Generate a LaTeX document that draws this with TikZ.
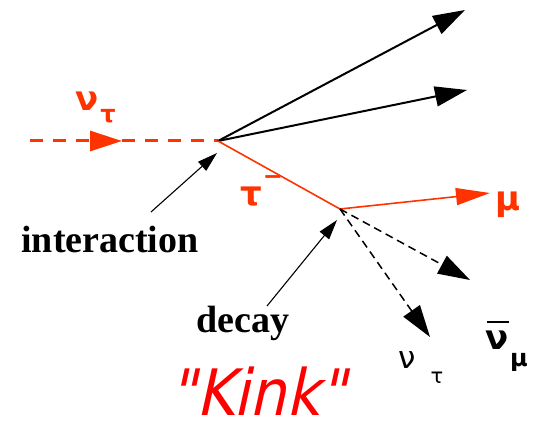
\documentclass[tikz,border=0pt]{standalone}
\usepackage{fontspec}
\setmainfont{Liberation Serif}
\newfontfamily\kinkfont[FakeSlant=0.22]{DejaVu Sans Condensed}
\newfontfamily\grk{DejaVu Sans}
\usetikzlibrary{arrows.meta}
\definecolor{tred}{RGB}{255,51,0}
\definecolor{kred}{RGB}{255,0,0}
\begin{document}
\begin{tikzpicture}[x=1pt,y=-1pt,
  bigtip/.style={-{Triangle[length=32pt,width=20pt]}},
  smalltip/.style={-{Triangle[length=20pt,width=12pt]}},
  track/.style={line width=2pt,black},
  redtrack/.style={line width=1.6pt,tred},
  nudash/.style={line width=3pt,tred,dash pattern=on 13pt off 10pt},
  nudecay/.style={line width=1.5pt,black,dash pattern=on 8pt off 5pt},
  pointer/.style={line width=1.1pt,black},
  lbl/.style={font=\fontsize{38}{38}\selectfont\bfseries,inner sep=0pt},
  greek/.style={font=\grk\bfseries\fontsize{34}{34}\selectfont,inner sep=0pt},
  greeks/.style={font=\grk\bfseries\fontsize{24}{24}\selectfont,inner sep=0pt},
  greekl/.style={font=\grk\fontsize{31}{31}\selectfont,inner sep=0pt},
  greekls/.style={font=\grk\fontsize{21}{21}\selectfont,inner sep=0pt},
]
\useasboundingbox (0,0) rectangle (535,427);
% vertices and end points
\coordinate (start) at (30,141);
\coordinate (mid) at (122,141);
\coordinate (int) at (218,141);
\coordinate (dec) at (340,209);
\coordinate (j1) at (465,10);
\coordinate (j2) at (467,90);
\coordinate (mu) at (490,193);
\coordinate (nb) at (470,280);
\coordinate (nt) at (430,337);
\coordinate (ip) at (151,212);
\coordinate (ipt) at (217,153);
\coordinate (dp) at (267,306);
\coordinate (dpt) at (337,220);
% incoming neutrino
\draw[nudash,bigtip] (start) -- (mid);
\draw[nudash] (mid) -- (int);
% hadron jets
\draw[track,bigtip] (int) -- (j1);
\draw[track,bigtip] (int) -- (j2);
% tau
\draw[redtrack] (int) -- (dec);
\draw[redtrack,-{Triangle[length=34pt,width=17pt]}] (dec) -- (mu);
% decay neutrinos
\draw[nudecay,bigtip] (dec) -- (nb);
\draw[nudecay,bigtip] (dec) -- (nt);
% pointers
\draw[pointer,smalltip] (ip) -- (ipt);
\draw[pointer,smalltip] (dp) -- (dpt);
% labels
\node[greek,text=tred] (lnu) at (87,101) {ν};
\node[greeks,text=tred] (lnut) at (108,116) {τ};
\node[greek,text=tred] (ltau) at (251,197) {τ};
\node[greeks,text=tred] (ltaum) at (273,180) {−};
\node[greek,text=tred] (lmu) at (508,205) {μ};
\node[lbl] (linter) at (110,240) {interaction};
\node[lbl] (ldecay) at (243,323) {decay};
\node[greekl] (lnt) at (407,360) {ν};
\node[greekls] (lntt) at (437,378) {τ};
\node[greek] (lnb) at (497,340) {ν};
\draw[line width=2.2pt] (487,322) -- (509,322);
\node[greeks] (lnbm) at (519,362) {μ};
\node[font=\kinkfont\fontsize{64}{64}\selectfont,text=kred,inner sep=0pt,anchor=base] (kink) at (258,415) {"Kink"};
\end{tikzpicture}
\end{document}
